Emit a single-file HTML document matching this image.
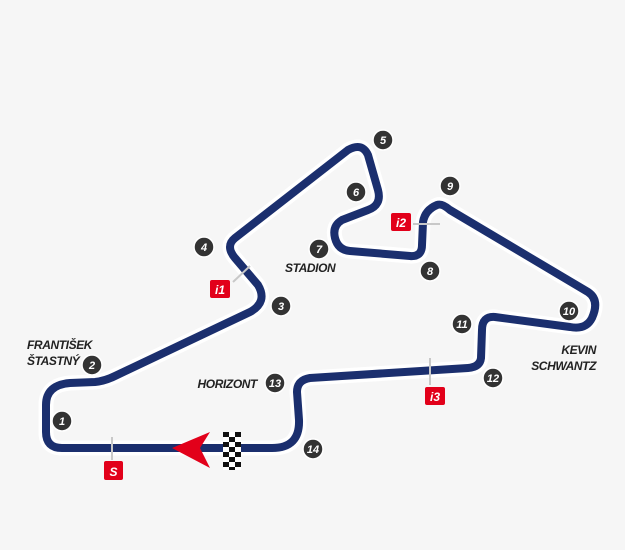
<!DOCTYPE html>
<html><head><meta charset="utf-8"><style>
html,body{margin:0;padding:0;background:#f6f6f6;}
svg{display:block;}
.n{font-family:"Liberation Sans",sans-serif;font-weight:bold;font-style:italic;font-size:11px;fill:#fff;text-anchor:middle;}
.l{font-family:"Liberation Sans",sans-serif;font-weight:bold;font-style:italic;font-size:12px;fill:#222;letter-spacing:-0.4px;}
.t{font-family:"Liberation Sans",sans-serif;font-weight:bold;font-style:italic;font-size:12px;fill:#fff;text-anchor:middle;}
</style></head><body>
<svg width="625" height="550" viewBox="0 0 625 550" xmlns="http://www.w3.org/2000/svg">
<rect width="625" height="550" fill="#f6f6f6"/>
<g fill="none" stroke-linejoin="round" stroke-linecap="round">
<path d="M230 448 L62 448 Q46 448 46 432 L46 405 Q46 385 70 383 L95 382 Q105 381 115 376 L250 312 Q268 302 258 285 L235 258 Q225 246 235 238 L348 150 Q362 142 368 155 L378 190 Q382 205 368 210 L342 220 Q332 226 335 238 Q338 250 350 251 L410 256 Q422 257 422 245 L423 222 Q425 210 437 205 Q442 203 450 210 L588 292 Q600 300 592 318 Q586 330 570 327 L495 317 Q482 316 482 330 L481 358 Q480 367 468 368 L310 378 Q297 380 297 392 L299 420 Q300 448 272 448 Z" stroke="#ffffff" stroke-width="15"/>
<path d="M230 448 L62 448 Q46 448 46 432 L46 405 Q46 385 70 383 L95 382 Q105 381 115 376 L250 312 Q268 302 258 285 L235 258 Q225 246 235 238 L348 150 Q362 142 368 155 L378 190 Q382 205 368 210 L342 220 Q332 226 335 238 Q338 250 350 251 L410 256 Q422 257 422 245 L423 222 Q425 210 437 205 Q442 203 450 210 L588 292 Q600 300 592 318 Q586 330 570 327 L495 317 Q482 316 482 330 L481 358 Q480 367 468 368 L310 378 Q297 380 297 392 L299 420 Q300 448 272 448 Z" stroke="#1b2f6e" stroke-width="8"/>
</g>
<g stroke="#c8c8c8" stroke-width="2">
<line x1="112" y1="437" x2="112" y2="460"/>
<line x1="250" y1="266" x2="233" y2="282"/>
<line x1="413" y1="224" x2="440" y2="224"/>
<line x1="430" y1="358" x2="430" y2="385"/>
</g>
<g fill="#e2001a">
<rect x="104" y="461" width="19" height="19" rx="2"/>
<rect x="210" y="280" width="20" height="18" rx="2"/>
<rect x="391" y="213" width="20" height="18" rx="2"/>
<rect x="425" y="387" width="20" height="18" rx="2"/>
</g>
<text class="t" x="113.5" y="476">S</text>
<text class="t" x="220" y="294">i1</text>
<text class="t" x="401" y="227">i2</text>
<text class="t" x="435" y="401">i3</text>
<polygon points="172,448 210,432 200,448 210,468" fill="#e2001a"/>
<g>
<rect x="223" y="432" width="18" height="38" fill="#fff"/>
<g fill="#111">
<rect x="223" y="432" width="6" height="5"/><rect x="235" y="432" width="6" height="5"/>
<rect x="229" y="437" width="6" height="5"/>
<rect x="223" y="442" width="6" height="5"/><rect x="235" y="442" width="6" height="5"/>
<rect x="229" y="447" width="6" height="5"/>
<rect x="223" y="452" width="6" height="5"/><rect x="235" y="452" width="6" height="5"/>
<rect x="229" y="457" width="6" height="5"/>
<rect x="223" y="462" width="6" height="5"/><rect x="235" y="462" width="6" height="5"/>
<rect x="229" y="467" width="6" height="3"/>
</g></g>
<g fill="#333" stroke="#fff" stroke-width="1.5">
<circle cx="62" cy="421" r="10"/><circle cx="92" cy="365" r="10"/><circle cx="281" cy="306" r="10"/>
<circle cx="204" cy="247" r="10"/><circle cx="383" cy="140" r="10"/><circle cx="356" cy="192" r="10"/>
<circle cx="319" cy="249" r="10"/><circle cx="430" cy="271" r="10"/><circle cx="450" cy="186" r="10"/>
<circle cx="569" cy="311" r="10"/><circle cx="462" cy="324" r="10"/><circle cx="493" cy="378" r="10"/>
<circle cx="275" cy="383" r="10"/><circle cx="313" cy="449" r="10"/>
</g>
<g>
<text class="n" x="62" y="425">1</text><text class="n" x="92" y="369">2</text><text class="n" x="281" y="310">3</text>
<text class="n" x="204" y="251">4</text><text class="n" x="383" y="144">5</text><text class="n" x="356" y="196">6</text>
<text class="n" x="319" y="253">7</text><text class="n" x="430" y="275">8</text><text class="n" x="450" y="190">9</text>
<text class="n" x="569" y="315">10</text><text class="n" x="462" y="328">11</text><text class="n" x="493" y="382">12</text>
<text class="n" x="275" y="387">13</text><text class="n" x="313" y="453">14</text>
</g>
<text class="l" x="27" y="349">FRANTIŠEK</text>
<text class="l" x="27" y="365">ŠTASTNÝ</text>
<text class="l" x="285" y="272">STADION</text>
<text class="l" x="257" y="388" text-anchor="end">HORIZONT</text>
<text class="l" x="596" y="354" text-anchor="end">KEVIN</text>
<text class="l" x="596" y="370" text-anchor="end">SCHWANTZ</text>
</svg>
</body></html>
